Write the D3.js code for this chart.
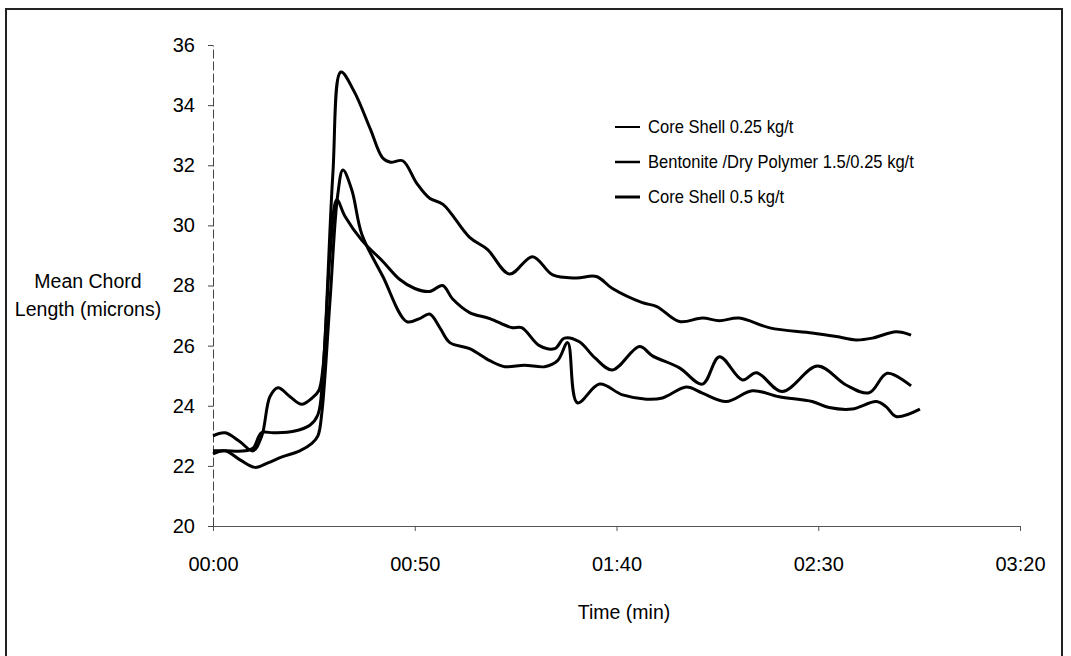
<!DOCTYPE html>
<html>
    <head>
        <meta charset="utf-8">
        <style>
            body { margin: 0; background: #fff; }
            .axis text {
                font-family: "Liberation Sans", Arial, sans-serif;
                font-size: 20px;
                fill: #000;
            }
            .lbl {
                font-family: "Liberation Sans", Arial, sans-serif;
                font-size: 19.5px;
                fill: #000;
            }
            .leg text {
                font-family: "Liberation Sans", Arial, sans-serif;
                font-size: 18px;
                fill: #000;
            }
        </style>
    </head>
    <body>
        <svg width="1071" height="656"></svg>
        <script src="https://d3js.org/d3.v7.min.js"></script>
        <script>
            // series names (legend order)
            var names = ["Core Shell 0.25 kg/t", "Bentonite /Dry Polymer 1.5/0.25 kg/t", "Core Shell 0.5 kg/t"];

            // time in seconds, value = mean chord length (microns)
            var timeA = [0, 3, 8, 10, 12, 15, 20, 24, 26, 27.2, 29.7, 31.7, 35, 39, 42, 44, 47, 50.5, 53.7, 57, 63.6, 68, 73.5, 79.2, 84.2, 90, 95, 99, 106.4, 110, 115.6, 121.3, 125.5, 130.4, 138, 148.5, 154.5, 159.4, 163.4, 169.3, 173];
            var valA  = [22.5, 22.5, 22.5, 22.6, 23.1, 23.1, 23.15, 23.35, 23.7, 25.0, 31.7, 35.1, 34.45, 33.2, 32.25, 32.1, 32.15, 31.4, 30.9, 30.7, 29.6, 29.2, 28.38, 28.96, 28.35, 28.25, 28.3, 27.9, 27.43, 27.3, 26.8, 26.92, 26.83, 26.92, 26.59, 26.42, 26.3, 26.19, 26.25, 26.46, 26.35];

            var timeB = [0, 3, 6.7, 10.4, 13.6, 17.1, 21.5, 24.5, 26, 27, 29, 30.9, 32.2, 34.4, 36.9, 42.1, 48, 51.2, 53.7, 56.2, 58.7, 63.6, 68.6, 72.3, 77.2, 82.2, 85.4, 87.9, 90.3, 95.8, 101.5, 107.4, 111.4, 117.3, 121.3, 127.2, 133.7, 140.3, 148.5, 152.7, 158.4, 164.4, 166.8, 169.3, 175.2];
            var valB  = [22.4, 22.5, 22.2, 21.95, 22.1, 22.3, 22.5, 22.75, 23.0, 23.8, 27.5, 31.0, 31.84, 31.18, 29.7, 28.3, 26.8, 26.9, 27.05, 26.6, 26.1, 25.9, 25.5, 25.3, 25.35, 25.3, 25.5, 26.1, 24.1, 24.72, 24.36, 24.22, 24.26, 24.62, 24.42, 24.14, 24.5, 24.3, 24.14, 23.94, 23.89, 24.14, 23.97, 23.64, 23.89];

            var timeC = [0, 3, 6.7, 9.9, 12.1, 14.1, 16.1, 19.1, 22, 24.5, 26.2, 27.2, 29, 30.7, 32.7, 36.9, 42.1, 46.3, 50, 53.7, 56.9, 59.4, 63.6, 68.6, 74, 76.5, 80.9, 84.7, 87.1, 90.8, 94.6, 99, 105.7, 108.9, 115.6, 121.3, 125.5, 131.2, 134.7, 141.1, 149.8, 156.9, 162.6, 167.1, 173];
            var valC  = [23.0, 23.1, 22.8, 22.5, 23.0, 24.3, 24.6, 24.3, 24.05, 24.25, 24.5, 25.2, 29.0, 30.85, 30.3, 29.5, 28.8, 28.2, 27.9, 27.8, 28.0, 27.55, 27.1, 26.9, 26.6, 26.6, 26.0, 25.9, 26.25, 26.13, 25.6, 25.19, 25.97, 25.66, 25.26, 24.72, 25.63, 24.86, 25.1, 24.47, 25.32, 24.69, 24.43, 25.08, 24.66];

            var xTicks = [0, 50, 100, 150, 200];
            var yTicks = [20, 22, 24, 26, 28, 30, 32, 34, 36];

            var svg = d3.select("svg");

            // outer frame
            svg.append("rect")
                .attr("x", 6).attr("y", 9)
                .attr("width", 1056).attr("height", 660)
                .attr("fill", "none")
                .attr("stroke", "#222")
                .attr("stroke-width", 2);

            var xScale = d3.scaleLinear().domain([0, 200]).range([213, 1020]);
            var yScale = d3.scaleLinear().domain([20, 36]).range([526, 45]);

            function fmtTime(s) {
                var m = Math.floor(s / 60), sec = s % 60;
                return d3.format("02d")(m) + ":" + d3.format("02d")(sec);
            }

            // x axis
            var gx = svg.append("g")
                .attr("class", "axis")
                .attr("transform", "translate(0," + yScale(20) + ")")
                .call(d3.axisBottom(xScale).tickValues(xTicks).tickFormat(fmtTime).tickSize(5).tickSizeOuter(0));
            gx.select(".domain").attr("stroke", "#555");
            gx.selectAll(".tick line").attr("stroke", "#555");
            gx.selectAll(".tick text").attr("dy", "1.85em");

            // y axis
            var gy = svg.append("g")
                .attr("class", "axis")
                .attr("transform", "translate(" + xScale(0) + ",0)")
                .call(d3.axisLeft(yScale).tickValues(yTicks).tickSize(5).tickSizeOuter(0));
            gy.select(".domain").attr("stroke", "#444").attr("stroke-dasharray", "9,3");
            gy.selectAll(".tick line").attr("stroke", "#444");
            gy.selectAll(".tick text").attr("x", -18);

            // data lines
            var series = [
                {t: timeA, v: valA},
                {t: timeB, v: valB},
                {t: timeC, v: valC}
            ];
            var line = d3.line()
                .x(function(d) { return xScale(d[0]); })
                .y(function(d) { return yScale(d[1]); })
                .curve(d3.curveCatmullRom.alpha(0.5));

            svg.selectAll("path.series")
                .data(series)
                .enter()
                .append("path")
                .attr("class", "series")
                .attr("d", function(s) { return line(d3.zip(s.t, s.v)); })
                .attr("fill", "none")
                .attr("stroke", "#000")
                .attr("stroke-width", 3)
                .attr("stroke-linejoin", "round");

            // axis titles
            svg.append("text").attr("class", "lbl")
                .attr("x", 88).attr("y", 288)
                .attr("text-anchor", "middle")
                .text("Mean Chord");
            svg.append("text").attr("class", "lbl")
                .attr("x", 88).attr("y", 316)
                .attr("text-anchor", "middle")
                .text("Length (microns)");
            svg.append("text").attr("class", "lbl")
                .attr("x", 624).attr("y", 619)
                .attr("text-anchor", "middle")
                .text("Time (min)");

            // legend (text is a little condensed, like the original)
            var legW = [2, 2.5, 3];
            var leg = svg.selectAll("g.leg")
                .data(names)
                .enter()
                .append("g")
                .attr("class", "leg")
                .attr("transform", function(d, i) { return "translate(615," + (127 + i * 35) + ")"; });
            leg.append("line")
                .attr("x1", 0).attr("x2", 25)
                .attr("stroke", "#000")
                .attr("stroke-width", function(d, i) { return legW[i]; });
            leg.append("text")
                .attr("transform", "translate(33,0) scale(0.92,1)")
                .attr("dy", "0.35em")
                .text(function(d) { return d; });
        </script>
    </body>
</html>
